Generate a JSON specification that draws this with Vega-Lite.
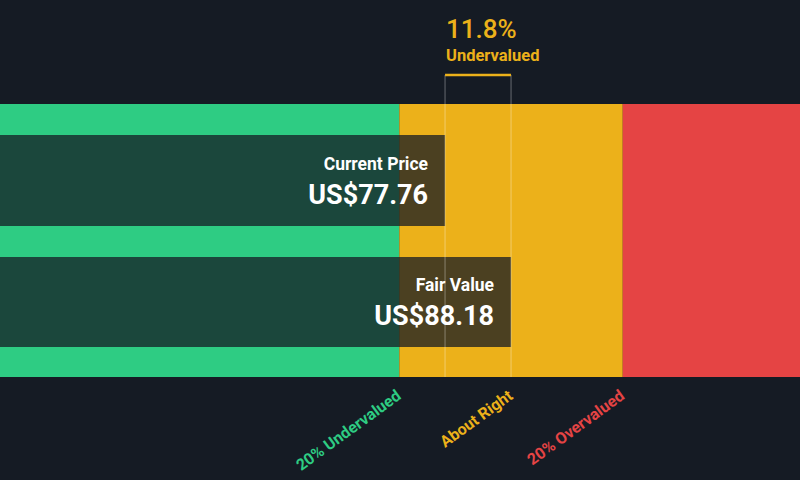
{
  "$schema": "https://vega.github.io/schema/vega-lite/v6.json",
  "width": 800,
  "height": 480,
  "autosize": {"type": "none"},
  "padding": 0,
  "background": "#151b24",
  "datasets": {
    "zones": [
      {"zone": "20% Undervalued", "from": 7.5, "to": 70.54, "mark": 70.54, "top": 104, "bottom": 377, "color": "#2ecc83"},
      {"zone": "About Right", "from": 70.54, "to": 105.82, "mark": 88.18, "top": 104, "bottom": 377, "color": "#ecb11a"},
      {"zone": "20% Overvalued", "from": 105.82, "to": 133.8, "mark": 105.82, "top": 104, "bottom": 377, "color": "#e54444"}
    ],
    "bars": [
      {"name": "Current Price", "label": "US$77.76", "start": 7.5, "value": 77.76, "top": 135, "bottom": 226, "nameY": 170, "valueY": 204},
      {"name": "Fair Value", "label": "US$88.18", "start": 7.5, "value": 88.18, "top": 257, "bottom": 347, "nameY": 291, "valueY": 325}
    ],
    "gap": [
      {"from": 77.76, "to": 88.18, "pct": "11.8%", "word": "Undervalued", "lineY": 75, "bottom": 377}
    ]
  },
  "layer": [
    {
      "data": {"name": "zones"},
      "mark": {"type": "rect"},
      "encoding": {
        "x": {"field": "from", "type": "quantitative", "scale": {"domain": [7.5, 133.8], "nice": false, "zero": false}, "axis": null},
        "x2": {"field": "to"},
        "y": {"field": "top", "type": "quantitative", "scale": {"domain": [0, 480], "reverse": true, "nice": false, "zero": false}, "axis": null},
        "y2": {"field": "bottom"},
        "color": {"field": "color", "type": "nominal", "scale": null}
      }
    },
    {
      "data": {"name": "bars"},
      "mark": {"type": "rect", "fill": "#151b24", "opacity": 0.75},
      "encoding": {
        "x": {"field": "start", "type": "quantitative"},
        "x2": {"field": "value"},
        "y": {"field": "top", "type": "quantitative"},
        "y2": {"field": "bottom"}
      }
    },
    {
      "data": {"name": "bars"},
      "mark": {"type": "rule", "color": "#ffffff", "opacity": 0.35, "strokeWidth": 1},
      "encoding": {
        "x": {"field": "value", "type": "quantitative"},
        "y": {"datum": 75, "type": "quantitative"},
        "y2": {"datum": 377}
      }
    },
    {
      "data": {"name": "gap"},
      "mark": {"type": "rule", "color": "#ecb11a", "strokeWidth": 2.5},
      "encoding": {
        "x": {"field": "from", "type": "quantitative"},
        "x2": {"field": "to"},
        "y": {"field": "lineY", "type": "quantitative"}
      }
    },
    {
      "data": {"name": "gap"},
      "mark": {"type": "text", "align": "left", "baseline": "alphabetic", "font": "Roboto", "fontSize": 26, "fontWeight": 500, "color": "#ecb11a", "dx": 1},
      "encoding": {
        "x": {"field": "from", "type": "quantitative"},
        "y": {"datum": 38, "type": "quantitative"},
        "text": {"field": "pct"}
      }
    },
    {
      "data": {"name": "gap"},
      "mark": {"type": "text", "align": "left", "baseline": "alphabetic", "font": "Roboto", "fontSize": 16.5, "fontWeight": "bold", "color": "#ecb11a", "dx": 1},
      "encoding": {
        "x": {"field": "from", "type": "quantitative"},
        "y": {"datum": 61, "type": "quantitative"},
        "text": {"field": "word"}
      }
    },
    {
      "data": {"name": "bars"},
      "mark": {"type": "text", "align": "right", "baseline": "alphabetic", "font": "Roboto", "fontSize": 17.5, "fontWeight": "bold", "color": "#ffffff", "dx": -17},
      "encoding": {
        "x": {"field": "value", "type": "quantitative"},
        "y": {"field": "nameY", "type": "quantitative"},
        "text": {"field": "name"}
      }
    },
    {
      "data": {"name": "bars"},
      "mark": {"type": "text", "align": "right", "baseline": "alphabetic", "font": "Roboto", "fontSize": 27, "fontWeight": "bold", "color": "#ffffff", "dx": -17},
      "encoding": {
        "x": {"field": "value", "type": "quantitative"},
        "y": {"field": "valueY", "type": "quantitative"},
        "text": {"field": "label"}
      }
    },
    {
      "data": {"name": "zones"},
      "mark": {"type": "text", "align": "right", "baseline": "top", "font": "Roboto", "fontSize": 16, "fontWeight": "bold", "angle": -36, "dx": -6},
      "encoding": {
        "x": {"field": "mark", "type": "quantitative"},
        "y": {"datum": 384, "type": "quantitative"},
        "text": {"field": "zone"},
        "color": {"field": "color", "type": "nominal", "scale": null}
      }
    }
  ],
  "config": {
    "view": {"stroke": null}
  }
}
